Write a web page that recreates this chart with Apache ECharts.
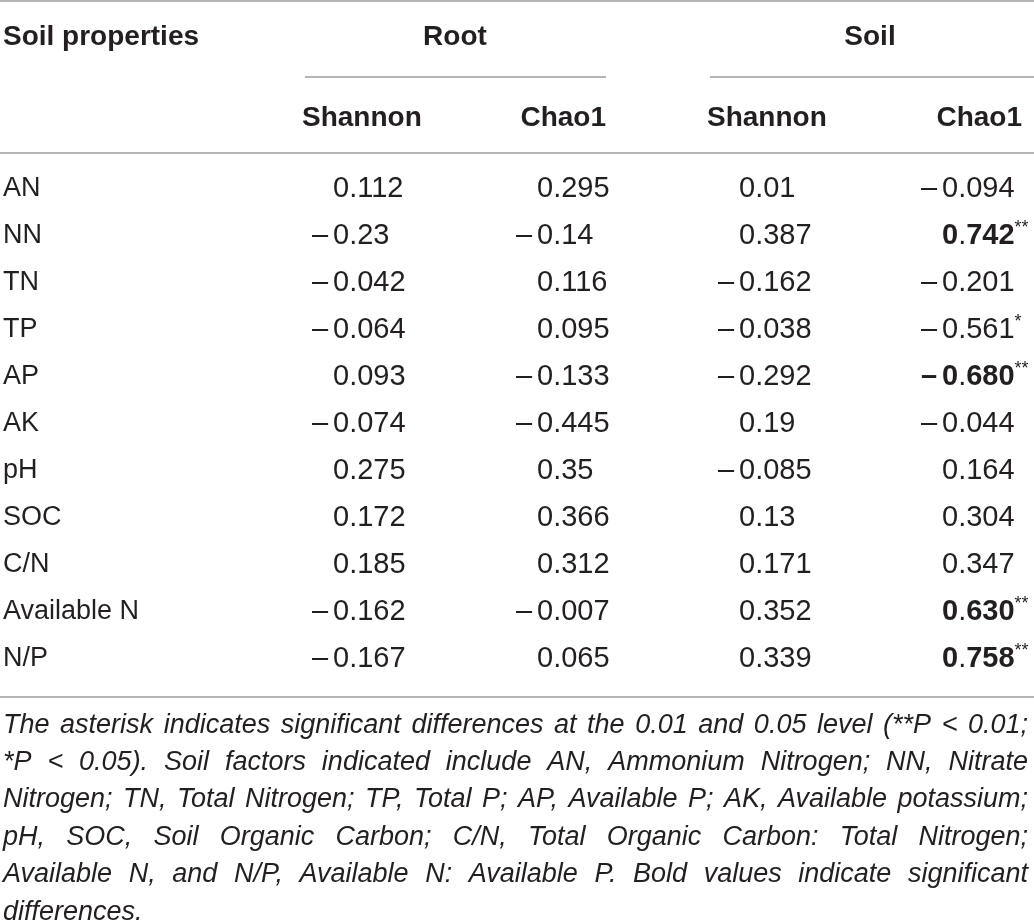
<!DOCTYPE html>
<html>
<head>
<meta charset="utf-8">
<script src="https://cdn.jsdelivr.net/npm/echarts@6/dist/echarts.min.js"></script>
<style>
  html, body { margin: 0; padding: 0; background: #fff; }
  #main { width: 1034px; height: 922px; }
</style>
</head>
<body>
<div id="main"></div>
<script>
// table data
var rowLabels = ['AN', 'NN', 'TN', 'TP', 'AP', 'AK', 'pH', 'SOC', 'C/N', 'Available N', 'N/P'];
var rootShannon = [0.112, -0.23, -0.042, -0.064, 0.093, -0.074, 0.275, 0.172, 0.185, -0.162, -0.167];
var rootChao1 = [0.295, -0.14, 0.116, 0.095, -0.133, -0.445, 0.35, 0.366, 0.312, -0.007, 0.065];
var soilShannon = [0.01, 0.387, -0.162, -0.038, -0.292, 0.19, -0.085, 0.13, 0.171, 0.352, 0.339];
var soilChao1 = [-0.094, 0.742, -0.201, -0.561, -0.680, -0.044, 0.164, 0.304, 0.347, 0.630, 0.758];
var soilChao1Sig = ['', '**', '', '*', '**', '', '', '', '', '**', '**'];
var firstHeader = 'Soil properties';
var groupHeaders = ['Root', 'Soil'];
var indexHeaders = ['Shannon', 'Chao1'];
var footnoteLines = [
  'The asterisk indicates significant differences at the 0.01 and 0.05 level (**P < 0.01;',
  '*P < 0.05). Soil factors indicated include AN, Ammonium Nitrogen; NN, Nitrate',
  'Nitrogen; TN, Total Nitrogen; TP, Total P; AP, Available P; AK, Available potassium;',
  'pH, SOC, Soil Organic Carbon; C/N, Total Organic Carbon: Total Nitrogen;',
  'Available N, and N/P, Available N: Available P. Bold values indicate significant',
  'differences.'
];

var FONT = '"Liberation Sans", Arial, Helvetica, sans-serif';
var INK = '#231f20';
var RULE = '#9d9d9d';
var W = 1034;
var MINUS_W = 21;
var NUM_SIZE = 29;

var myChart = echarts.init(document.getElementById('main'));

// rich text for a numeric cell (bold value keeps the decimal point regular)
function cellText(v, mark) {
  var bold = mark === '**';
  var s = bold ? Math.abs(v).toFixed(3) : String(Math.abs(v));
  var out = '';
  if (v < 0) out += '{' + (bold ? 'mb' : 'm') + '|\u2013}';
  if (bold) {
    var parts = s.split('.');
    out += '{b|' + parts[0] + '}{n|.}{b|' + parts[1] + '}';
  } else {
    out += '{n|' + s + '}';
  }
  if (mark) out += '{sup|' + mark + '}';
  return out;
}

var rich = {
  n: { fontSize: NUM_SIZE, fontFamily: FONT, fill: INK, lineHeight: 34 },
  b: { fontSize: NUM_SIZE, fontFamily: FONT, fontWeight: 'bold', fill: INK, lineHeight: 34 },
  m: { fontSize: NUM_SIZE, fontFamily: FONT, fill: INK, width: MINUS_W, lineHeight: 34 },
  mb: { fontSize: NUM_SIZE, fontFamily: FONT, fontWeight: 'bold', fill: INK, width: MINUS_W, lineHeight: 34 },
  sup: { fontSize: 18, fontFamily: FONT, fill: INK, verticalAlign: 'top', lineHeight: 19 }
};

// one custom series per column, placed on the shared row axis
function columnSeries(x, values, marks) {
  return {
    type: 'custom',
    coordinateSystem: 'cartesian2d',
    silent: true,
    data: rowLabels.map(function (r, i) { return [x, i]; }),
    renderItem: function (params, api) {
      var i = params.dataIndex;
      var p = api.coord([x, i]);
      var v = values[i];
      var mark = marks ? marks[i] : '';
      return {
        type: 'text',
        x: v < 0 ? p[0] - MINUS_W : p[0],
        y: p[1],
        style: {
          text: cellText(v, mark),
          rich: rich,
          align: 'left', textAlign: 'left',
          verticalAlign: 'middle', textVerticalAlign: 'middle'
        }
      };
    }
  };
}

var labelSeries = {
  type: 'custom',
  coordinateSystem: 'cartesian2d',
  silent: true,
  data: rowLabels.map(function (r, i) { return [3, i]; }),
  renderItem: function (params, api) {
    var p = api.coord([3, params.dataIndex]);
    return {
      type: 'text',
      x: p[0], y: p[1],
      style: {
        text: rowLabels[params.dataIndex],
        fontSize: 27, fontFamily: FONT, fill: INK,
        align: 'left', textAlign: 'left',
        verticalAlign: 'middle', textVerticalAlign: 'middle'
      }
    };
  }
};

function hText(text, x, y, align) {
  return {
    type: 'text', x: x, y: y, silent: true,
    style: {
      text: text, fontSize: 28, fontWeight: 'bold', fontFamily: FONT, fill: INK,
      align: align, textAlign: align,
      verticalAlign: 'middle', textVerticalAlign: 'middle'
    }
  };
}

function rule(x1, x2, y) {
  return {
    type: 'line', silent: true,
    shape: { x1: x1, y1: y, x2: x2, y2: y },
    style: { stroke: RULE, lineWidth: 1.6 }
  };
}

var graphics = [
  rule(0, W, 1),
  rule(305, 606, 77),
  rule(710, W, 77),
  rule(0, W, 153),
  rule(0, W, 697),
  hText(firstHeader, 3, 37, 'left'),
  hText(groupHeaders[0], 455, 37, 'center'),
  hText(groupHeaders[1], 870, 37, 'center'),
  hText(indexHeaders[0], 302, 118, 'left'),
  hText(indexHeaders[1], 606, 118, 'right'),
  hText(indexHeaders[0], 707, 118, 'left'),
  hText(indexHeaders[1], 1022, 118, 'right')
];

// justified italic footnote
var ctx = document.createElement('canvas').getContext('2d');
var NOTE_SIZE = 27;
ctx.font = 'italic ' + NOTE_SIZE + 'px ' + FONT;
var noteLeft = 3, noteRight = 1028;
footnoteLines.forEach(function (line, li) {
  var y = 725 + li * 37.4;
  var words = line.split(' ');
  var widths = words.map(function (w) { return ctx.measureText(w).width; });
  var natural = ctx.measureText(line).width;
  var total = widths.reduce(function (a, b) { return a + b; }, 0);
  var space = ctx.measureText(' ').width;
  var span = noteRight - noteLeft;
  var scale = natural > span ? span / natural : 1;
  var gap;
  if (li === footnoteLines.length - 1) gap = space * scale;
  else gap = (span - total * scale) / Math.max(1, words.length - 1);
  var x = noteLeft;
  words.forEach(function (w, wi) {
    graphics.push({
      type: 'text', x: x, y: y, scaleX: scale, silent: true,
      style: {
        text: w, fontSize: NOTE_SIZE, fontStyle: 'italic', fontFamily: FONT, fill: INK,
        align: 'left', textAlign: 'left',
        verticalAlign: 'middle', textVerticalAlign: 'middle'
      }
    });
    x += widths[wi] * scale + gap;
  });
});

var option = {
  animation: false,
  backgroundColor: '#fff',
  grid: { left: 0, right: 0, top: 165.5, height: 517 },
  xAxis: { type: 'value', min: 0, max: W, show: false },
  yAxis: { type: 'category', data: rowLabels, inverse: true, show: false },
  series: [
    labelSeries,
    columnSeries(333, rootShannon),
    columnSeries(537, rootChao1),
    columnSeries(739, soilShannon),
    columnSeries(942, soilChao1, soilChao1Sig)
  ],
  graphic: graphics
};
myChart.setOption(option);
</script>
</body>
</html>
